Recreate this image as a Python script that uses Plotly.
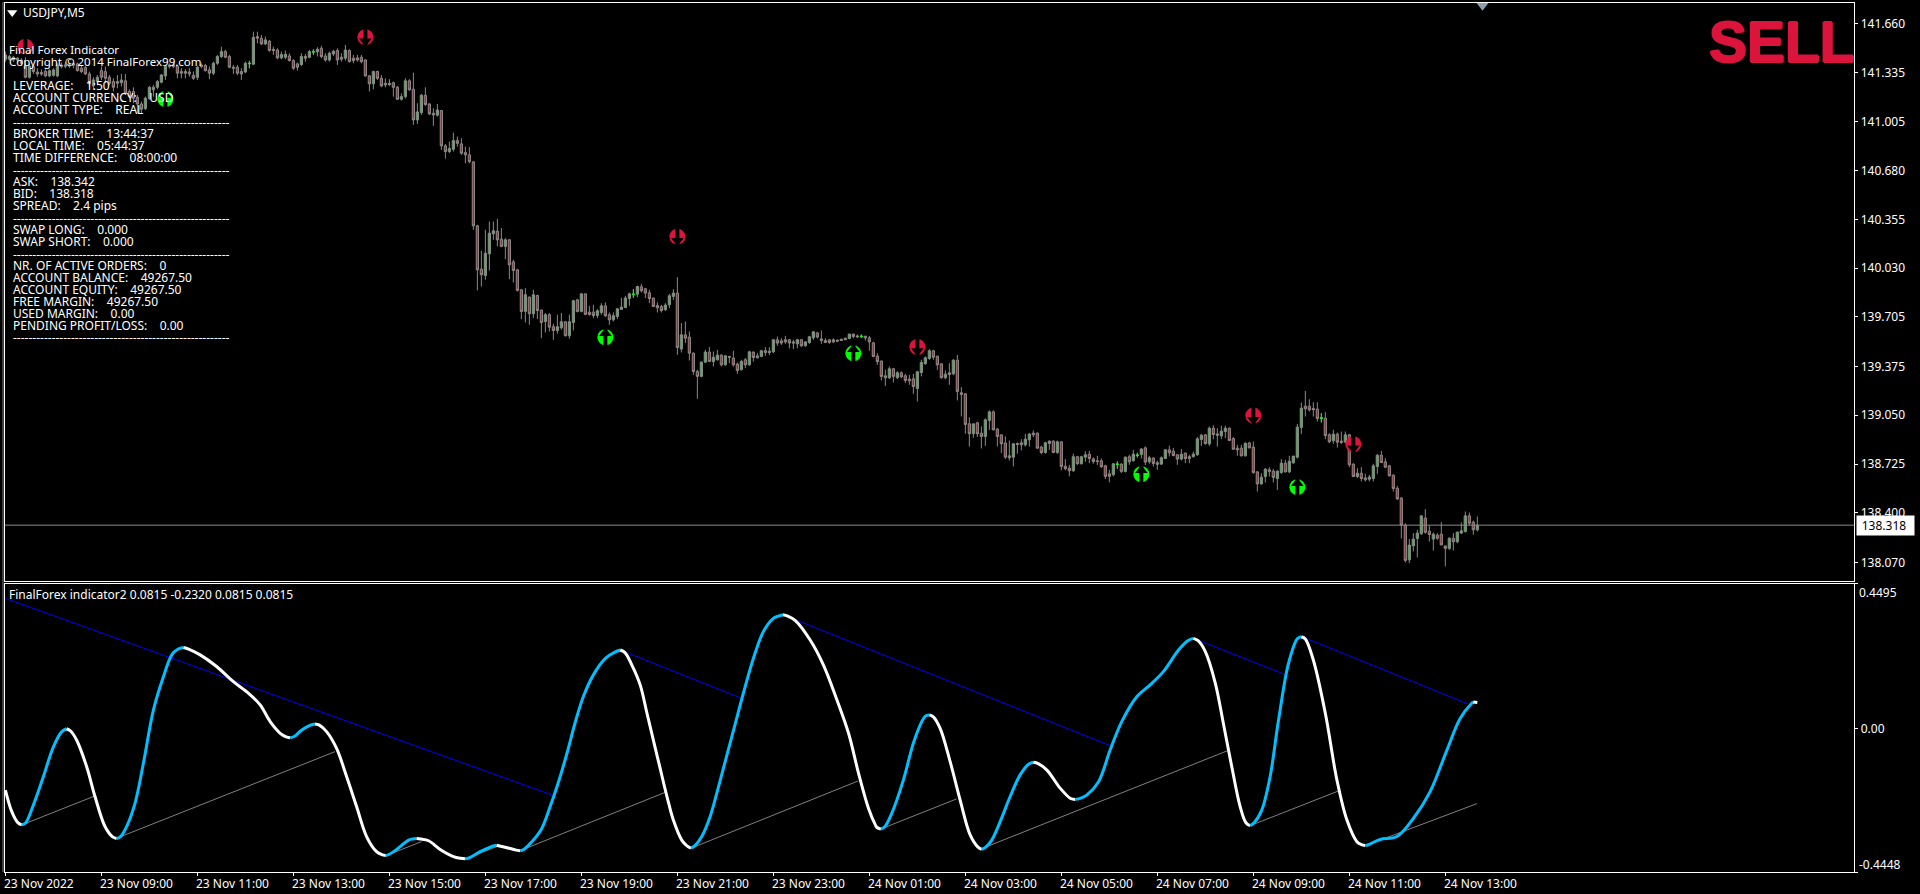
import plotly.graph_objects as go

# ---------- price pane values (USDJPY M5), read bar by bar ----------
BODY_HI = [
141.451,141.440,141.435,141.429,141.417,141.377,141.377,141.373,141.337,141.333,
141.342,141.346,141.351,141.382,141.384,141.384,141.386,141.395,141.391,141.362,
141.366,141.324,141.284,141.302,141.346,141.340,141.302,141.273,141.273,141.284,
141.278,141.207,141.207,141.169,141.124,141.162,141.235,141.235,141.273,141.317,
141.373,141.384,141.384,141.377,141.340,141.340,141.337,141.315,141.369,141.384,
141.380,141.351,141.395,141.440,141.473,141.473,141.440,141.369,141.369,141.340,
141.395,141.395,141.568,141.573,141.562,141.551,141.542,141.488,141.484,141.453,
141.455,141.444,141.413,141.391,141.440,141.440,141.473,141.473,141.488,141.495,
141.444,141.462,141.475,141.480,141.435,141.484,141.480,141.429,141.431,141.435,
141.417,141.311,141.340,141.340,141.295,141.262,141.262,141.266,141.235,141.173,
141.278,141.278,141.222,141.071,141.182,141.182,141.124,141.062,141.084,141.080,
140.845,140.827,140.880,140.880,140.858,140.800,140.785,140.738,140.312,140.024,
140.130,140.263,140.279,140.277,140.223,140.219,140.219,140.072,140.019,139.886,
139.853,139.837,139.853,139.848,139.751,139.720,139.720,139.640,139.640,139.673,
139.673,139.673,139.813,139.819,139.859,139.859,139.737,139.737,139.746,139.779,
139.779,139.720,139.713,139.759,139.771,139.831,139.859,139.857,139.908,139.906,
139.893,139.866,139.831,139.782,139.775,139.784,139.846,139.864,139.864,139.586,
139.586,139.571,139.464,139.342,139.404,139.471,139.471,139.437,139.451,139.451,
139.446,139.442,139.431,139.391,139.409,139.420,139.473,139.471,139.446,139.480,
139.480,139.477,139.553,139.553,139.546,139.553,139.553,139.539,139.553,139.553,
139.539,139.573,139.606,139.599,139.559,139.548,139.553,139.553,139.551,139.557,
139.564,139.591,139.591,139.579,139.577,139.577,139.566,139.533,139.444,139.411,
139.313,139.360,139.360,139.333,139.333,139.313,139.291,139.293,139.340,139.402,
139.433,139.480,139.480,139.444,139.393,139.324,139.333,139.417,139.417,139.200,
139.193,138.993,138.993,139.000,138.931,139.020,139.073,139.073,138.958,138.920,
138.865,138.780,138.860,138.862,138.867,138.891,138.925,138.931,138.931,138.838,
138.867,138.878,138.878,138.873,138.873,138.711,138.698,138.774,138.774,138.774,
138.787,138.791,138.760,138.747,138.747,138.714,138.660,138.727,138.725,138.725,
138.771,138.774,138.791,138.785,138.825,138.833,138.767,138.765,138.734,138.767,
138.820,138.820,138.811,138.787,138.791,138.798,138.774,138.791,138.893,138.917,
138.920,138.964,138.964,138.926,138.944,138.964,138.964,138.895,138.831,138.831,
138.864,138.866,138.838,138.673,138.638,138.691,138.687,138.678,138.678,138.731,
138.731,138.744,138.778,138.971,139.097,139.111,139.111,139.095,139.091,139.033,
139.031,138.920,138.924,138.924,138.878,138.920,138.920,138.724,138.664,138.664,
138.633,138.638,138.713,138.784,138.784,138.740,138.713,138.651,138.564,138.498,
138.318,138.185,138.225,138.265,138.380,138.365,138.278,138.258,138.251,138.258,
138.180,138.231,138.231,138.271,138.280,138.380,138.380,138.338,138.318]

BODY_LO = [
141.422,141.422,141.417,141.417,141.395,141.302,141.302,141.340,141.324,141.324,
141.311,141.311,141.315,141.311,141.373,141.375,141.377,141.382,141.346,141.340,
141.324,141.258,141.244,141.273,141.302,141.295,141.262,141.235,141.262,141.266,
141.195,141.173,141.162,141.124,141.089,141.093,141.160,141.218,141.235,141.269,
141.311,141.373,141.373,141.329,141.329,141.329,141.324,141.295,141.302,141.373,
141.346,141.329,141.329,141.395,141.440,141.435,141.369,141.362,141.329,141.324,
141.337,141.393,141.389,141.562,141.524,141.524,141.480,141.480,141.431,141.431,
141.435,141.413,141.362,141.369,141.386,141.429,141.435,141.471,141.471,141.440,
141.417,141.417,141.457,141.417,141.422,141.429,141.406,141.413,141.417,141.406,
141.311,141.258,141.258,141.295,141.244,141.251,141.253,141.235,141.155,141.155,
141.173,141.218,141.018,141.018,141.067,141.120,141.058,141.051,141.049,140.845,
140.807,140.807,140.822,140.862,140.796,140.785,140.740,140.312,140.019,139.986,
139.981,140.126,140.259,140.219,140.175,140.175,140.052,140.015,139.882,139.742,
139.742,139.726,139.726,139.748,139.668,139.675,139.637,139.615,139.615,139.633,
139.580,139.580,139.668,139.742,139.742,139.722,139.722,139.715,139.715,139.735,
139.713,139.686,139.686,139.708,139.755,139.768,139.828,139.855,139.857,139.879,
139.864,139.828,139.775,139.766,139.748,139.753,139.786,139.842,139.502,139.491,
139.564,139.464,139.342,139.309,139.309,139.404,139.409,139.408,139.420,139.386,
139.386,139.437,139.386,139.349,139.353,139.386,139.386,139.435,139.433,139.442,
139.468,139.468,139.473,139.531,139.531,139.539,139.531,139.531,139.526,139.513,
139.513,139.535,139.566,139.571,139.548,139.535,139.535,139.539,139.544,139.548,
139.553,139.562,139.575,139.573,139.575,139.566,139.539,139.442,139.408,139.309,
139.300,139.300,139.309,139.300,139.306,139.282,139.280,139.242,139.229,139.335,
139.393,139.428,139.437,139.386,139.300,139.300,139.322,139.326,139.209,139.189,
138.989,138.927,138.927,138.927,138.909,138.909,139.016,138.953,138.909,138.860,
138.771,138.767,138.771,138.856,138.853,138.853,138.887,138.920,138.831,138.802,
138.802,138.862,138.802,138.802,138.709,138.694,138.680,138.680,138.727,138.727,
138.771,138.762,138.742,138.742,138.707,138.643,138.643,138.654,138.723,138.676,
138.676,138.740,138.747,138.782,138.789,138.738,138.740,138.729,138.723,138.725,
138.762,138.800,138.782,138.758,138.758,138.762,138.762,138.774,138.787,138.889,
138.862,138.860,138.922,138.917,138.913,138.942,138.882,138.824,138.820,138.780,
138.780,138.833,138.669,138.593,138.593,138.642,138.676,138.636,138.629,138.669,
138.673,138.673,138.733,138.771,138.969,139.093,139.086,139.088,139.028,139.031,
138.915,138.873,138.880,138.871,138.869,138.871,138.720,138.642,138.642,138.629,
138.620,138.624,138.629,138.709,138.735,138.704,138.647,138.562,138.493,138.318,
138.083,138.087,138.180,138.229,138.260,138.271,138.256,138.225,138.231,138.187,
138.163,138.163,138.207,138.207,138.265,138.276,138.331,138.287,138.287]

HIGH = [
141.473,141.451,141.444,141.435,141.429,141.440,141.391,141.384,141.362,141.355,
141.355,141.355,141.362,141.395,141.400,141.406,141.400,141.417,141.400,141.377,
141.377,141.340,141.302,141.317,141.373,141.373,141.317,141.295,141.317,141.324,
141.324,141.222,141.235,141.184,141.140,141.173,141.244,141.251,141.284,141.324,
141.384,141.395,141.400,141.384,141.362,141.355,141.362,141.340,141.377,141.395,
141.391,141.373,141.406,141.451,141.506,141.484,141.451,141.384,141.384,141.362,
141.406,141.411,141.606,141.606,141.584,141.573,141.551,141.506,141.495,141.473,
141.480,141.462,141.422,141.400,141.462,141.457,141.484,141.488,141.502,141.511,
141.462,141.473,141.484,141.495,141.462,141.517,141.488,141.451,141.451,141.451,
141.422,141.317,141.346,141.346,141.317,141.295,141.289,141.273,141.244,141.195,
141.295,141.289,141.333,141.129,141.191,141.235,141.129,141.095,141.124,141.084,
140.858,140.873,140.933,140.907,140.896,140.840,140.836,140.745,140.319,140.146,
140.286,140.341,140.341,140.359,140.297,140.230,140.223,140.086,140.024,139.890,
139.897,139.842,139.886,139.853,139.753,139.731,139.731,139.660,139.720,139.731,
139.675,139.720,139.819,139.826,139.864,139.859,139.779,139.786,139.757,139.797,
139.802,139.735,139.735,139.764,139.833,139.846,139.868,139.890,139.913,139.926,
139.897,139.886,139.833,139.802,139.786,139.797,139.859,139.890,139.970,139.664,
139.675,139.608,139.468,139.353,139.409,139.486,139.504,139.475,139.486,139.455,
139.451,139.446,139.480,139.402,139.420,139.431,139.480,139.475,139.464,139.486,
139.504,139.504,139.557,139.575,139.564,139.579,139.557,139.553,139.559,139.559,
139.544,139.579,139.611,139.606,139.615,139.564,139.557,139.562,139.553,139.559,
139.566,139.593,139.593,139.588,139.588,139.579,139.579,139.539,139.464,139.415,
139.353,139.375,139.364,139.344,139.342,139.326,139.320,139.326,139.346,139.420,
139.442,139.491,139.486,139.446,139.397,139.349,139.397,139.424,139.453,139.238,
139.198,139.036,138.993,139.007,138.976,139.029,139.082,139.082,138.964,138.920,
138.909,138.882,138.865,138.869,138.891,138.927,138.931,138.949,138.936,138.847,
138.873,138.882,138.882,138.882,138.876,138.758,138.720,138.794,138.780,138.780,
138.811,138.813,138.769,138.780,138.762,138.720,138.687,138.731,138.742,138.729,
138.776,138.787,138.820,138.800,138.831,138.842,138.780,138.769,138.747,138.776,
138.825,138.847,138.833,138.789,138.825,138.802,138.787,138.807,138.905,138.926,
138.924,138.975,138.984,138.964,138.980,138.980,138.969,138.904,138.853,138.853,
138.869,138.873,138.875,138.676,138.664,138.698,138.704,138.691,138.682,138.758,
138.753,138.780,138.780,138.993,139.135,139.213,139.157,139.137,139.137,139.064,
139.071,138.931,138.953,138.935,138.942,138.942,138.926,138.731,138.698,138.704,
138.660,138.653,138.727,138.793,138.813,138.764,138.720,138.656,138.580,138.505,
138.331,138.225,138.265,138.287,138.385,138.425,138.314,138.269,138.265,138.338,
138.180,138.238,138.265,138.276,138.336,138.409,138.402,138.349,138.376]

LOW = [
141.406,141.413,141.404,141.400,141.377,141.295,141.293,141.324,141.306,141.311,
141.302,141.302,141.306,141.302,141.362,141.362,141.364,141.362,141.340,141.329,
141.317,141.240,141.218,141.262,141.284,141.262,141.249,141.207,141.229,141.240,
141.184,141.162,141.129,141.062,141.062,141.084,141.151,141.173,141.222,141.262,
141.284,141.360,141.362,141.295,141.295,141.295,141.306,141.284,141.284,141.362,
141.340,141.289,141.317,141.384,141.429,141.429,141.362,141.324,141.317,141.284,
141.329,141.362,141.384,141.528,141.517,141.517,141.473,141.451,141.422,141.422,
141.422,141.406,141.351,141.346,141.377,141.406,141.429,141.451,141.440,141.429,
141.406,141.406,141.444,141.384,141.406,141.413,141.400,141.395,141.406,141.395,
141.306,141.207,141.222,141.284,141.235,141.235,141.244,141.173,141.151,141.147,
141.160,141.213,140.985,140.991,141.051,141.111,141.051,140.978,141.040,140.818,
140.760,140.796,140.807,140.840,140.785,140.729,140.729,140.286,139.882,139.908,
139.953,140.015,140.219,140.175,140.170,140.090,139.957,139.935,139.875,139.691,
139.668,139.653,139.697,139.691,139.564,139.602,139.609,139.553,139.593,139.620,
139.575,139.560,139.615,139.735,139.735,139.717,139.713,139.697,139.697,139.719,
139.704,139.653,139.675,139.691,139.753,139.764,139.779,139.833,139.837,139.868,
139.831,139.797,139.771,139.735,139.735,139.746,139.764,139.819,139.453,139.468,
139.531,139.415,139.320,139.160,139.304,139.400,139.404,139.375,139.415,139.375,
139.380,139.397,139.375,139.326,139.349,139.364,139.380,139.408,139.428,139.437,
139.446,139.451,139.464,139.513,139.519,139.526,139.495,139.491,139.497,139.504,
139.508,139.526,139.553,139.562,139.526,139.531,139.526,139.531,139.539,139.546,
139.551,139.557,139.564,139.564,139.566,139.548,139.480,139.437,139.386,139.282,
139.246,139.291,139.269,139.291,139.297,139.264,139.253,139.193,139.142,139.309,
139.386,139.420,139.420,139.353,139.295,139.291,139.253,139.317,139.149,139.042,
138.927,138.842,138.900,138.905,138.829,138.847,138.953,138.949,138.842,138.798,
138.758,138.749,138.709,138.794,138.816,138.842,138.842,138.905,138.825,138.789,
138.794,138.820,138.798,138.794,138.683,138.683,138.643,138.674,138.720,138.723,
138.740,138.731,138.727,138.718,138.700,138.625,138.603,138.643,138.694,138.665,
138.669,138.720,138.742,138.769,138.762,138.718,138.727,138.709,138.687,138.718,
138.758,138.776,138.776,138.720,138.749,138.731,138.731,138.769,138.780,138.846,
138.853,138.846,138.891,138.842,138.891,138.898,138.878,138.820,138.780,138.775,
138.775,138.829,138.660,138.542,138.587,138.602,138.642,138.602,138.553,138.660,
138.669,138.664,138.727,138.762,138.926,139.042,139.075,139.042,139.008,139.002,
138.891,138.864,138.860,138.835,138.860,138.864,138.704,138.638,138.631,138.609,
138.609,138.609,138.609,138.660,138.731,138.698,138.642,138.542,138.487,138.229,
138.069,138.065,138.143,138.103,138.254,138.260,138.209,138.149,138.220,138.183,
138.043,138.154,138.149,138.198,138.260,138.269,138.318,138.254,138.276]

BULL_BARS = [0,1,2,3,6,11,12,13,16,17,22,23,29,35,36,37,38,39,40,48,52,53,54,60,62,65,69,70,74,76,78,81,82,85,
92,99,100,103,104,108,111,112,120,121,122,125,130,132,135,138,139,141,142,144,148,149,152,153,154,155,156,158,
165,166,167,169,174,175,177,178,180,184,186,189,192,198,200,201,202,211,221,223,228,229,230,231,235,237,242,
245,246,252,255,256,260,261,263,267,269,270,277,280,282,284,286,289,290,294,297,298,299,301,304,305,310,314,
315,318,319,321,322,323,324,332,335,338,341,342,343,351,352,353,354,357,361,363,364,365,368]
LIME_BARS = [61,77,157,214,278,283,329]

BID = 138.318
PRICE_TICKS = [141.660,141.335,141.005,140.680,140.355,140.030,139.705,139.375,139.050,138.725,138.400,138.070]

SELL_ARROW_BAR = [5,90,168,228,312,337]
SELL_ARROW_PRICE = [141.506,141.569,140.240,139.505,139.048,138.857]
BUY_ARROW_BAR = [40,150,212,284,323]
BUY_ARROW_PRICE = [141.157,139.570,139.463,138.657,138.571]

# ---------- oscillator values ----------
OSC_BAR = [0,1.6,3.1,4.1,5.1,7.0,9.5,12.0,14.1,15.3,16.3,17.8,20.3,22.4,24.9,26.8,27.8,28.8,30.3,32.4,34.5,37.0,39.5,41.6,43.2,44.5,45.8,48.7,52.8,57.0,
60.8,63.7,66.2,68.7,70.2,71.2,72.2,74.1,76.4,77.4,78.4,80.3,82.8,85.3,87.8,90.3,92.8,94.1,95.1,96.1,97.8,100.8,101.8,102.8,103.8,105.8,108.7,112.0,113.9,114.9,115.9,118.7,
121.8,122.8,123.8,126.2,127.7,128.7,129.7,132.0,134.1,136.2,138.3,140.4,142.4,144.5,147.0,150.0,152.5,153.7,154.9,156.6,158.7,160.4,162.0,163.7,165.4,
167.0,169.1,170.4,171.4,172.4,174.1,176.2,178.3,180.4,182.5,184.5,187.0,189.5,192.0,193.2,194.4,195.6,197.5,201.2,204.5,207.9,210.8,213.3,
215.8,217.5,217.9,218.9,219.9,221.6,224.5,227.0,229.1,230.0,231.0,232.0,233.7,236.2,238.7,241.2,243.1,244.1,245.1,246.6,248.7,251.2,253.7,255.8,257.0,258.2,260.4,
263.7,266.3,267.5,268.7,270.4,273.3,276.2,279.1,282.9,286.2,289.5,293.3,295.8,297.0,298.2,300.0,302.5,304.5,306.6,308.7,310.2,311.2,312.2,314.1,316.2,
318.3,320.8,323.0,324.0,325.0,327.0,330.0,332.9,335.4,337.9,339.0,340.0,341.0,343.7,347.9,352.0,356.2,360.4,363.7,366.6,367.0,368.0]
OSC_VAL = [-.190,-.257,-.291,-.298,-.291,-.236,-.148,-.056,-.009,.000,-.007,-.035,-.117,-.210,-.303,-.335,-.340,-.334,-.303,-.231,-.107,.058,.161,.229,.247,.252,.247,
.229,.193,.146,.110,.074,.022,-.014,-.025,-.028,-.024,-.004,.012,.015,.012,-.009,-.061,-.148,-.241,-.334,-.381,-.390,-.393,-.388,-.374,-.345,-.3415,-.340,-.3415,-.347,-.374,
-.396,-.4015,-.403,-.4005,-.381,-.364,-.361,-.364,-.371,-.376,-.378,-.373,-.345,-.309,-.241,-.164,-.076,.017,.100,.167,.218,.238,.244,.236,.198,.136,.048,-.035,-.123,-.210,
-.283,-.345,-.363,-.370,-.362,-.334,-.272,-.179,-.081,.017,.110,.218,.301,.342,.349,.353,.349,.335,.275,.198,.089,-.014,-.138,-.247,-.298,-.306,-.311,-.303,
-.262,-.159,-.045,.022,.039,.043,.037,.001,-.102,-.221,-.329,-.366,-.374,-.367,-.345,-.288,-.210,-.143,-.110,-.104,-.108,-.128,-.184,-.216,-.219,-.216,-.205,-.164,-.066,
.022,.100,.136,.177,.244,.274,.280,.273,.239,.141,.017,-.117,-.241,-.292,-.300,-.291,-.252,-.148,.027,.203,.279,.285,.278,.213,.048,-.159,-.283,-.350,-.359,-.362,-.358,
-.343,-.334,-.278,-.195,-.066,.032,.079,.0830,.0815]

BLUE_BAR_START = [0,153.7,194.5,297.0,324.1]
BLUE_VAL_START = [.404,.244,.3527,.2804,.2854]
BLUE_BAR_END = [136.6,184.0,276.2,320.2,365.7]
BLUE_VAL_END = [-.205,.0945,-.0524,.1667,.0769]

GREY_BAR_START = [4.1,27.8,94.9,115.3,128.7,171.4,218.9,243.7,311.2,340.0]
GREY_VAL_START = [-.298,-.3393,-.3942,-.4013,-.3777,-.3703,-.3105,-.3734,-.3003,-.3623]
GREY_BAR_END = [22.4,82.4,104.0,122.8,165.0,213.2,237.8,305.4,333.3,367.9]
GREY_VAL_END = [-.208,-.0710,-.350,-.3654,-.1968,-.1618,-.2175,-.0688,-.1927,-.2320]

TIME_TICK_BARS = [0,24,48,72,96,120,144,168,192,216,240,264,288,312,336,360]
TIME_TICK_TEXT = ["23 Nov 2022","23 Nov 09:00","23 Nov 11:00","23 Nov 13:00","23 Nov 15:00","23 Nov 17:00",
                  "23 Nov 19:00","23 Nov 21:00","23 Nov 23:00","24 Nov 01:00","24 Nov 03:00","24 Nov 05:00",
                  "24 Nov 07:00","24 Nov 09:00","24 Nov 11:00","24 Nov 13:00"]

DASHES = "-" * 56
INFO_LINES = ["LEVERAGE:    1:50","ACCOUNT CURRENCY:    USD","ACCOUNT TYPE:    REAL",DASHES,
              "BROKER TIME:    13:44:37","LOCAL TIME:    05:44:37","TIME DIFFERENCE:    08:00:00",DASHES,
              "ASK:    138.342","BID:    138.318","SPREAD:    2.4 pips",DASHES,
              "SWAP LONG:    0.000","SWAP SHORT:    0.000",DASHES,
              "NR. OF ACTIVE ORDERS:    0","ACCOUNT BALANCE:    49267.50","ACCOUNT EQUITY:    49267.50",
              "FREE MARGIN:    49267.50","USED MARGIN:    0.00","PENDING PROFIT/LOSS:    0.00",DASHES]
INFO_Y = [85.5,97.5,109.5,122,133.5,145.5,157.5,170,181.5,193.5,205.5,218,229.5,241.5,254,265.5,277.5,289.5,301.5,313.5,325.5,338]

# ---------- build ----------
W, H = 1920, 894
FONT = "Noto Sans"
FS = 12
px = lambda x: x / W
py = lambda y: 1 - y / H

n = len(HIGH)
bars = list(range(n))
bull = set(BULL_BARS)
opens = [BODY_LO[i] if i in bull else BODY_HI[i] for i in bars]
closes = [BODY_HI[i] if i in bull else BODY_LO[i] for i in bars]
closes[-1] = BID

fig = go.Figure()
GREY = "#8a8a8a"
fig.add_trace(go.Candlestick(
    x=bars, open=opens, high=HIGH, low=LOW, close=closes, xaxis="x2", yaxis="y",
    increasing=dict(line=dict(color=GREY, width=1), fillcolor="#10e010"),
    decreasing=dict(line=dict(color=GREY, width=1), fillcolor="#f01010"),
    whiskerwidth=0, hoverinfo="skip", showlegend=False))
fig.add_trace(go.Candlestick(
    x=LIME_BARS, open=[opens[i] for i in LIME_BARS], high=[HIGH[i] for i in LIME_BARS],
    low=[LOW[i] for i in LIME_BARS], close=[closes[i] for i in LIME_BARS], xaxis="x2", yaxis="y",
    increasing=dict(line=dict(color="#00ff00", width=1), fillcolor="#00ff00"),
    decreasing=dict(line=dict(color="#00ff00", width=1), fillcolor="#00ff00"),
    whiskerwidth=0, hoverinfo="skip", showlegend=False))


def add_arrows(xs, ys, col, sign):
    head = "triangle-up" if sign > 0 else "triangle-down"
    fig.add_trace(go.Scatter(x=xs, y=ys, mode="markers", xaxis="x2", yaxis="y", showlegend=False, hoverinfo="skip",
                             marker=dict(symbol="circle", size=16, color=col, line=dict(width=0))))
    fig.add_trace(go.Scatter(x=xs, y=ys, mode="markers", xaxis="x2", yaxis="y", showlegend=False, hoverinfo="skip",
                             marker=dict(symbol="line-ns", size=15, color="#000", line=dict(width=4, color="#000"))))
    fig.add_trace(go.Scatter(x=xs, y=[v + sign * 0.027 for v in ys], mode="markers", xaxis="x2", yaxis="y",
                             showlegend=False, hoverinfo="skip",
                             marker=dict(symbol=head, size=11, color="#000", line=dict(width=0))))


add_arrows(SELL_ARROW_BAR, SELL_ARROW_PRICE, "#DC143C", -1)
add_arrows(BUY_ARROW_BAR, BUY_ARROW_PRICE, "#00FF00", 1)

# chart-shift triangle at the top edge and the window-menu triangle beside the symbol
fig.add_trace(go.Scatter(x=[369.3], y=[141.782], mode="markers", xaxis="x2", yaxis="y", showlegend=False,
                         hoverinfo="skip", marker=dict(symbol="triangle-down", size=11, color="#8b9fb0", line=dict(width=0))))
fig.add_trace(go.Scatter(x=[1.7], y=[141.733], mode="markers", xaxis="x2", yaxis="y", showlegend=False,
                         hoverinfo="skip", marker=dict(symbol="triangle-down", size=9, color="#ffffff", line=dict(width=0))))


def segments(x0, y0, x1, y1):
    xs, ys = [], []
    for a, b, c, d in zip(x0, y0, x1, y1):
        xs += [a, c, None]
        ys += [b, d, None]
    return xs, ys


bx, by = segments(BLUE_BAR_START, BLUE_VAL_START, BLUE_BAR_END, BLUE_VAL_END)
fig.add_trace(go.Scatter(x=bx, y=by, mode="lines", xaxis="x", yaxis="y2", showlegend=False, hoverinfo="skip",
                         line=dict(color="#0000ff", width=1)))
gx, gy = segments(GREY_BAR_START, GREY_VAL_START, GREY_BAR_END, GREY_VAL_END)
fig.add_trace(go.Scatter(x=gx, y=gy, mode="lines", xaxis="x", yaxis="y2", showlegend=False, hoverinfo="skip",
                         line=dict(color="#808080", width=1)))

# oscillator split into rising (blue) and falling (white) runs
runs = []
for k in range(len(OSC_BAR) - 1):
    rising = OSC_VAL[k + 1] > OSC_VAL[k]
    if runs and runs[-1][0] == rising:
        runs[-1][1].append(k + 1)
    else:
        runs.append((rising, [k, k + 1]))
for rising, idx in runs:
    fig.add_trace(go.Scatter(x=[OSC_BAR[k] for k in idx], y=[OSC_VAL[k] for k in idx], mode="lines",
                             xaxis="x", yaxis="y2", showlegend=False, hoverinfo="skip",
                             line=dict(color="#00BFFF" if rising else "#ffffff", width=3, shape="spline", smoothing=1.0)))

X_RANGE = [-0.2, 462.25]
axis_style = dict(showgrid=False, zeroline=False, showline=True, mirror=True, linecolor="#fff", linewidth=1)
tick_font = dict(family=FONT, size=FS, color="#fff")

anns = []


def text(x, y, s, color="#fff", size=FS, anchor="left", family=FONT, **kw):
    anns.append(dict(x=px(x), y=py(y), xref="paper", yref="paper", text=s, showarrow=False, xanchor=anchor,
                     yanchor="middle", borderpad=0, align="left", font=dict(family=family, size=size, color=color, **kw)))


text(22, 12.5, "USDJPY,M5")
text(7.5, 49.5, "Final Forex Indicator", size=11.5)
text(7.5, 61.5, "Copyright © 2014 FinalForex99.com", size=11.5)
for yy, s in zip(INFO_Y, INFO_LINES):
    text(12, yy, s)
text(8, 594.5, "FinalForex indicator2 0.0815 -0.2320 0.0815 0.0815")
text(1708, 42, "SELL", color="#DC143C", size=57, family="Liberation Sans", weight=700,
     shadow="1px 0 0 #DC143C, -1px 0 0 #DC143C, 0 1px 0 #DC143C, 0 -1px 0 #DC143C")
text(1858, 592.7, "0.4495")
text(1858, 864.3, "-0.4448")
for b, s in zip(TIME_TICK_BARS, TIME_TICK_TEXT):
    anns.append(dict(x=b, y=py(883), xref="x", yref="paper", text=s, showarrow=False, xanchor="left", yanchor="middle",
                     xshift=-2, borderpad=0, font=dict(family=FONT, size=FS, color="#fff")))
anns.append(dict(x=px(1856), y=py(525), xref="paper", yref="paper", text="138.318 ", showarrow=False, xanchor="left",
                 yanchor="middle", bgcolor="#fff", borderpad=1, width=55, align="center",
                 font=dict(family=FONT, size=FS, color="#000")))

fig.update_layout(
    width=W, height=H, margin=dict(l=0, r=0, t=0, b=0), paper_bgcolor="#000", plot_bgcolor="#000",
    showlegend=False, hovermode=False, annotations=anns, boxgap=0.2,
    xaxis=dict(domain=[px(4.6), px(1854.3)], anchor="y2", range=X_RANGE, tickvals=TIME_TICK_BARS,
               ticktext=[""] * len(TIME_TICK_BARS), ticks="outside", ticklen=3, tickcolor="#fff",
               rangeslider=dict(visible=False), **axis_style),
    xaxis2=dict(domain=[px(4.6), px(1854.3)], anchor="y", range=X_RANGE, showticklabels=False, ticks="",
                rangeslider=dict(visible=False), **axis_style),
    yaxis=dict(domain=[py(581.3), py(2.5)], anchor="x2", side="right", range=[137.944, 141.800],
               tickvals=PRICE_TICKS, ticktext=[f"{v:.3f}" for v in PRICE_TICKS], ticks="outside", ticklen=3,
               tickcolor="#fff", tickfont=tick_font, **axis_style),
    yaxis2=dict(domain=[py(872.3), py(583.7)], anchor="x", side="right", range=[-0.4448, 0.4495],
                tickvals=[0.4495, 0, -0.4448], ticktext=["", "0.00", ""], ticks="outside", ticklen=3,
                tickcolor="#fff", tickfont=tick_font, **axis_style),
    shapes=[
        dict(type="line", xref="x2", yref="y", x0=X_RANGE[0], x1=X_RANGE[1], y0=BID, y1=BID,
             line=dict(color="#8a8a8a", width=1), layer="above"),
        dict(type="line", xref="paper", yref="paper", x0=px(3), x1=px(3), y0=py(872), y1=py(2),
             line=dict(color="#808080", width=1)),
    ],
)

fig.write_html("out.html", config={"displayModeBar": False},
               post_script="document.body.style.margin='0';document.body.style.background='#000';document.body.style.overflow='hidden';")
